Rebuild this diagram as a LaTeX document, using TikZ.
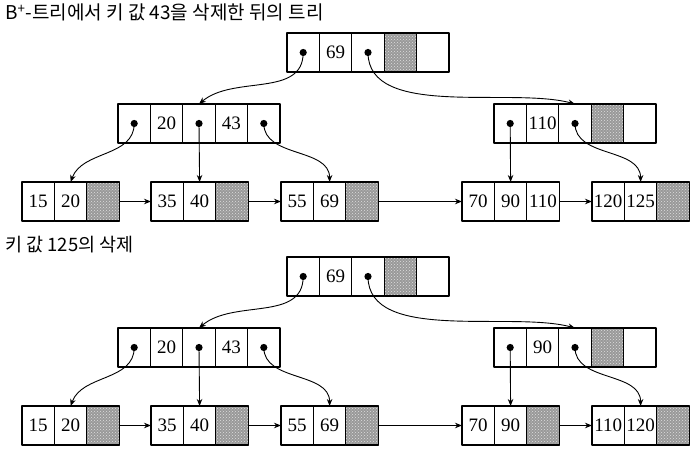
\documentclass[tikz,border=0pt]{standalone}
\usepackage{fontspec}
\setmainfont{Liberation Serif}
\newfontfamily\krfont{Noto Sans CJK KR}
\usetikzlibrary{arrows.meta,patterns,positioning}

\tikzset{
  cell/.style={draw, line width=1.2pt, minimum width=32.4pt, minimum height=39pt,
    inner sep=0pt, outer sep=0pt, font=\fontsize{19}{21}\selectfont},
  ptr/.style={cell, path picture={\fill (path picture bounding box.center) circle (3.6pt);}},
  shaded/.style={cell, preaction={fill=gray!80}, pattern=crosshatch dots, pattern color=gray!25},
  link/.style={line width=0.9pt, -{Stealth[length=7pt,width=5.5pt]}},
  heading/.style={font=\krfont\fontsize{19}{21}\selectfont, anchor=base west, inner sep=0pt}
}

% one node of the tree: name, top left corner, cells
\newcommand{\cellrow}[3]{%
  \coordinate (#1) at (#2);
  \foreach \val/\kind [count=\i] in {#3}
    \node[\kind, anchor=north west, xshift={(\i-1)*32.4pt}] (#1-\i) at (#1) {\val};
}

\begin{document}
\begin{tikzpicture}[line join=round, x=1pt, y=1pt]
\useasboundingbox (0,0) rectangle (696,452);

\node[heading] (title1) at (5,432) {B\textsuperscript{+}-트리에서 키 값 43을 삭제한 뒤의 트리};
\node[heading, font=\krfont\fontsize{18.5}{20}\selectfont] (title2) at (5,200) {키 값 125의 삭제};

% tree after deleting 43
\cellrow{top-root}{287,419}{{}/ptr,69/cell,{}/ptr,{}/shaded,{}/cell}
\cellrow{top-a}{118,348}{{}/ptr,20/cell,{}/ptr,43/cell,{}/ptr}
\cellrow{top-b}{494,348}{{}/ptr,110/cell,{}/ptr,{}/shaded,{}/cell}
\cellrow{top-l1}{22,270}{15/cell,20/cell,{}/shaded}
\cellrow{top-l2}{151,270}{35/cell,40/cell,{}/shaded}
\cellrow{top-l3}{281,270}{55/cell,69/cell,{}/shaded}
\cellrow{top-l4}{462,270}{70/cell,90/cell,110/cell}
\cellrow{top-l5}{592,270}{120/cell,125/cell,{}/shaded}

% tree after deleting 125
\cellrow{bot-root}{287,195}{{}/ptr,69/cell,{}/ptr,{}/shaded,{}/cell}
\cellrow{bot-a}{118,124}{{}/ptr,20/cell,{}/ptr,43/cell,{}/ptr}
\cellrow{bot-b}{494,124}{{}/ptr,90/cell,{}/ptr,{}/shaded,{}/cell}
\cellrow{bot-l1}{22,46}{15/cell,20/cell,{}/shaded}
\cellrow{bot-l2}{151,46}{35/cell,40/cell,{}/shaded}
\cellrow{bot-l3}{281,46}{55/cell,69/cell,{}/shaded}
\cellrow{bot-l4}{462,46}{70/cell,90/cell,{}/shaded}
\cellrow{bot-l5}{592,46}{110/cell,120/cell,{}/shaded}

% pointers, same in both trees
\foreach \p in {top,bot} {
  \draw[link] (\p-root-1.center) to[out=-90, in=40] (\p-a-3.north);
  \draw[link] (\p-root-3.center) to[out=-90, in=165, looseness=0.8] (\p-b-3.north);
  \draw[link] (\p-a-1.center) to[out=-90, in=70] (\p-l1-2.north);
  \draw[link] (\p-a-3.center) -- (\p-l2-2.north);
  \draw[link] (\p-a-5.center) to[out=-90, in=90] (\p-l3-2.north);
  \draw[link] (\p-b-1.center) -- (\p-l4-2.north);
  \draw[link] (\p-b-3.center) to[out=-90, in=90] (\p-l5-2.north);
  \draw[link] (\p-l1-3.east) -- (\p-l2-1.west);
  \draw[link] (\p-l2-3.east) -- (\p-l3-1.west);
  \draw[link] (\p-l3-3.east) -- (\p-l4-1.west);
  \draw[link] (\p-l4-3.east) -- (\p-l5-1.west);
}
\end{tikzpicture}
\end{document}
